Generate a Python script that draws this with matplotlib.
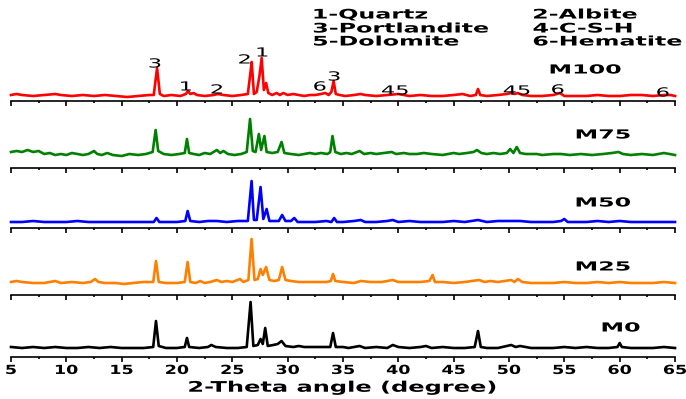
import matplotlib
matplotlib.use("Agg")
import matplotlib.pyplot as plt
from matplotlib import patheffects
from matplotlib.ticker import MultipleLocator
from matplotlib.transforms import Affine2D

# XRD patterns, 2-theta (degree) vs intensity (a.u.)
tt_m100 = [5, 5.5, 6, 7, 8, 9, 9.5, 10.5, 11.5, 12.5, 13.5, 14.5, 15.5, 16.5, 17.5, 17.9, 18.2, 18.45,
           18.8, 19.5, 20.3, 20.8, 21.0, 21.2, 21.5, 21.8, 22.5, 23.3, 23.7, 24.2, 25, 25.8, 26.4, 26.6,
           26.75, 26.95, 27.2, 27.45, 27.65, 27.85, 28.05, 28.25, 28.6, 29.0, 29.3, 29.6, 30.0, 30.5, 31,
           31.5, 32, 32.5, 33.0, 33.4, 33.7, 33.95, 34.15, 34.35, 34.7, 35.2, 36, 36.6, 37, 38, 39, 40, 41,
           42, 43, 44, 45, 45.8, 46.5, 47.0, 47.2, 47.4, 48, 49, 49.8, 50.2, 50.5, 50.8, 51.2, 52, 53, 54,
           54.6, 55, 56, 57, 58, 59, 60, 61, 62, 63, 64, 64.6, 65]
i_m100 = [1, 2, 1, 0, 1, 2, 1, 0, 1, 0, 1, 0, -1, 0, 1, 1, 28, 2,
          0, 1, 0, 2, 5, 2, 3, 1, 0, 1, 2, 1, 0, 1, 2, 20,
          34, 2, 4, 20, 38, 6, 13, 3, 1, 3, 1, 3, 1, 2, 1,
          0, 1, 1, 2, 3, 1, 4, 15, 2, 1, 0, 1, 2, 1, 0, 1, 2, 0,
          1, 0, 0, 1, 2, 0, 1, 7, 1, 0, 1, 2, 3, 2, 3, 1, 0, 0, 1,
          3, 0, 0, 0, 1, 0, 0, 1, 1, 0, 1, 1, 0]

tt_m75 = [5, 5.5, 6, 6.5, 7, 7.5, 8, 8.5, 9, 9.5, 10, 10.5, 11, 11.5, 12, 12.5, 12.8, 13.2, 13.7, 14.2,
          15, 15.7, 16.5, 17.2, 17.8, 18.07, 18.3, 18.8, 19.5, 20.2, 20.7, 20.9, 21.1, 21.5, 22, 22.5,
          23, 23.3, 23.6, 23.9, 24.2, 24.6, 25.2, 25.8, 26.3, 26.6, 26.85, 27.1, 27.4, 27.6, 27.9, 28.1,
          28.6, 29.1, 29.45, 29.7, 30.3, 31, 31.5, 32, 32.5, 33, 33.6, 33.85, 34.05, 34.3, 34.8, 35.3,
          35.8, 36.5, 36.9, 37.5, 38, 38.7, 39.4, 39.8, 40.5, 41, 41.7, 42.3, 43, 44, 45, 45.5, 46.2,
          46.8, 47.1, 47.5, 48, 48.6, 49.2, 49.8, 50.1, 50.4, 50.7, 51, 51.5, 52.5, 53, 54, 54.7, 55.5,
          56.5, 57.5, 58.5, 59.3, 59.9, 60.3, 61, 62, 63, 64, 64.5, 65]
i_m75 = [3, 4, 3, 5, 3, 4, 1, 2, 0, 1, 0, 2, 1, 0, 1, 4, 1, 0, 2, 0,
         -1, 1, 0, 1, 3, 25, 4, 1, 0, 1, 2, 16, 2, 1, 0, 2,
         1, 3, 5, 2, 4, 1, 0, 1, 3, 36, 4, 3, 21, 5, 19, 3,
         2, 3, 13, 2, 1, 0, 1, 2, 1, 2, 1, 3, 19, 3, 1, 2,
         1, 4, 1, 2, 1, 2, 3, 1, 2, 1, 1, 2, 1, 0, 2, 1, 2,
         3, 5, 2, 1, 2, 1, 2, 6, 2, 8, 2, 1, 1, 0, 1, 1, 0,
         1, 0, 1, 2, 3, 1, 0, 1, 0, 2, 1, 0]

tt_m50 = [5, 6, 7, 8, 9, 10, 11, 12, 13, 14, 15, 16, 17, 17.9, 18.15, 18.4, 19, 20, 20.75, 20.96, 21.2,
          22, 22.8, 23.6, 24.5, 25.5, 26.4, 26.74, 26.95, 27.2, 27.55, 27.8, 28.1, 28.35, 29.2, 29.5,
          29.8, 30.3, 30.6, 30.9, 31.5, 32.5, 33.5, 33.95, 34.2, 34.45, 35, 36, 36.6, 37, 38, 39, 39.5,
          40, 41, 42, 43, 44, 45, 46, 47.2, 48, 49, 50.1, 51, 52, 53, 54, 54.7, 55, 55.3, 56, 57, 58,
          59, 60, 61, 62, 63, 64, 65]
i_m50 = [0, 0, 1, 0, 0, 0, 1, 0, 0, 0, 0, 0, 0, 0, 4, 0, 0, 0, 1, 11, 1,
         0, 1, 1, 0, 1, 1, 41, 2, 2, 35, 3, 13, 1, 1, 7,
         1, 1, 4, 0, 0, 0, 1, 0, 4, 0, 0, 1, 2, 0, 0, 1, 2,
         0, 1, 0, 0, 0, 1, 0, 2, 0, 1, 1, 1, 0, 0, 0, 1, 3, 0, 0, 0, 1,
         0, 1, 0, 0, 0, 0, 0]

tt_m25 = [5, 5.5, 6, 7, 8, 9, 9.5, 10.5, 11.5, 12.2, 12.6, 12.9, 13.5, 14.5, 15.2, 16, 17, 17.85, 18.1,
          18.35, 19, 20, 20.7, 20.96, 21.2, 21.7, 22.1, 22.5, 23.0, 23.6, 24, 24.5, 25, 25.7, 26, 26.45,
          26.74, 27, 27.3, 27.55, 27.75, 28.05, 28.35, 28.8, 29.2, 29.5, 29.8, 30.3, 31, 32, 32.8, 33.5,
          33.9, 34.1, 34.3, 35, 36, 36.6, 37.5, 38.5, 39.5, 40, 41, 42, 42.8, 43.1, 43.3, 44, 45, 46,
          47.3, 47.8, 48.3, 49, 50.2, 50.5, 50.8, 51.2, 52, 53, 54, 55, 56, 57, 58, 59, 60, 61, 62, 63,
          64, 65]
i_m25 = [1, 2, 1, 0, 0, 2, 0, 1, 0, 1, 4, 1, 0, 0, -1, 0, 1, 1, 22,
         1, 0, 0, 1, 21, 1, 0, 2, 0, 1, 3, 1, 2, 1, 4, 1, 3,
         44, 3, 4, 14, 8, 16, 3, 2, 3, 16, 3, 2, 1, 1, 1, 1,
         2, 9, 2, 1, 0, 2, 1, 1, 3, 1, 1, 1, 2, 8, 1, 1, 0, 1,
         3, 1, 2, 1, 3, 1, 4, 1, 0, 0, 0, 1, 0, 0, 1, 0, 1, 0, 0, 0,
         1, 0]

tt_m0 = [5, 6, 7, 8, 9, 10, 11, 12, 13, 14, 15, 16, 17, 17.85, 18.1, 18.35, 19, 20, 20.7, 20.9, 21.1,
         22, 22.8, 23.1, 23.5, 24.5, 25.5, 26.3, 26.65, 26.9, 27.3, 27.55, 27.75, 27.97, 28.2, 28.7,
         29.1, 29.45, 29.8, 30.5, 31, 31.5, 32, 32.5, 33, 33.85, 34.1, 34.35, 35, 35.5, 36.5, 37, 38,
         39, 39.5, 40, 41, 42, 42.5, 43, 44, 45, 46, 46.9, 47.2, 47.45, 48, 49, 50.2, 50.6, 51, 52, 53,
         54, 55, 56, 57, 58, 59, 59.8, 60.0, 60.2, 61, 62, 63, 64, 65]
i_m0 = [1, 0, 1, 0, 1, 0, 0, 1, 0, 1, 0, 0, 0, 1, 27, 2, 0, 0, 1, 10, 1,
        0, 1, 3, 1, 0, 0, 1, 46, 2, 3, 9, 4, 20, 2, 3,
        4, 7, 2, 1, 2, 1, 1, 1, 1, 1, 15, 1, 1, 0, 2, 0, 1,
        0, 3, 1, 0, 1, 2, 0, 1, 0, 0, 1, 17, 1, 0, 0, 3, 1, 2, 0, 0,
        0, 1, 0, 1, 0, 0, 1, 5, 1, 0, 0, 0, 1, 0]

samples = ["M100", "M75", "M50", "M25", "M0"]
patterns = [(tt_m100, i_m100), (tt_m75, i_m75), (tt_m50, i_m50), (tt_m25, i_m25), (tt_m0, i_m0)]
colors = ["#ff0000", "#008000", "#0000ff", "#ff8000", "#000000"]

# phase labels on M100
peak_tags = ["3", "1", "2", "2", "1", "6", "3", "45", "45", "6", "6"]
peak_tag_x = [18.0, 20.8, 23.6, 26.1, 27.7, 32.9, 34.2, 39.7, 50.7, 54.4, 63.9]
peak_tag_y = [32, 9, 6, 36, 43, 9, 19, 5, 5, 6, 3]

phases = ["1-Quartz", "2-Albite", "3-Portlandite", "4-C-S-H", "5-Dolomite", "6-Hematite"]


class Widen(patheffects.AbstractPathEffect):
    """draw text glyphs wider (the original figure was stretched sideways)"""
    def __init__(self, sx, anchor="center"):
        super().__init__()
        self.sx = sx
        self.anchor = anchor

    def draw_path(self, renderer, gc, tpath, affine, rgbFace=None):
        ext = tpath.get_extents()
        x0 = ext.x0 if self.anchor == "left" else (ext.x0 + ext.x1) / 2
        st = Affine2D().translate(-x0, 0).scale(self.sx, 1).translate(x0, 0)
        renderer.draw_path(gc, tpath, st + affine, rgbFace)


W, H = 686, 399
fig = plt.figure(figsize=(W / 100, H / 100), dpi=100)

spine_px = [101, 168, 228, 295, 357]   # bottom line of each panel
lift = [5, 13, 6, 12, 9]               # baseline above the line
name_xy = [(56.9, 26), (58.5, 20), (58.5, 19), (58.5, 16), (60.1, 20)]
panel_h = 60

axes = []
for k, name in enumerate(samples):
    ax = fig.add_axes([11 / W, (H - spine_px[k]) / H, 664 / W, panel_h / H])
    tt, inten = patterns[k]
    ax.plot(tt, inten, color=colors[k], lw=1.9, clip_on=False)
    ax.set_xlim(5, 65)
    ax.set_ylim(-lift[k], panel_h - lift[k])
    for s in ["top", "left", "right"]:
        ax.spines[s].set_visible(False)
    ax.spines["bottom"].set_linewidth(1.2)
    ax.set_yticks([])
    ax.xaxis.set_major_locator(MultipleLocator(5))
    ax.xaxis.set_minor_locator(MultipleLocator(2.5))
    ax.tick_params(axis="x", which="major", direction="out", length=3.5, width=1.2)
    ax.tick_params(axis="x", which="minor", direction="out", length=1.5, width=1.2)
    ax.patch.set_alpha(0)
    if k < len(samples) - 1:
        ax.tick_params(axis="x", labelbottom=False)
    else:
        ax.tick_params(axis="x", labelsize=9, pad=1.5)
        for lab in ax.get_xticklabels():
            lab.set_fontweight("bold")
            lab.set_path_effects([Widen(1.4)])
        xl = ax.set_xlabel("2-Theta angle (degree)", fontsize=10.5, fontweight="bold", labelpad=2)
        xl.set_path_effects([Widen(1.65)])
    ax.text(name_xy[k][0], name_xy[k][1], name, fontsize=9, fontweight="bold",
            ha="center", va="center", path_effects=[Widen(1.9)])
    axes.append(ax)

for t, x, y in zip(peak_tags, peak_tag_x, peak_tag_y):
    axes[0].text(x, y, t, fontsize=9, ha="center", va="center", path_effects=[Widen(1.8)])

col_x = [313, 533]
row_y = [15, 29, 42]
for j, p in enumerate(phases):
    fig.text(col_x[j % 2] / W, 1 - row_y[j // 2] / H, p, fontsize=9.5, fontweight="bold",
             ha="left", va="center", path_effects=[Widen(1.8, "left")])

fig.savefig("out.png", dpi=100)
